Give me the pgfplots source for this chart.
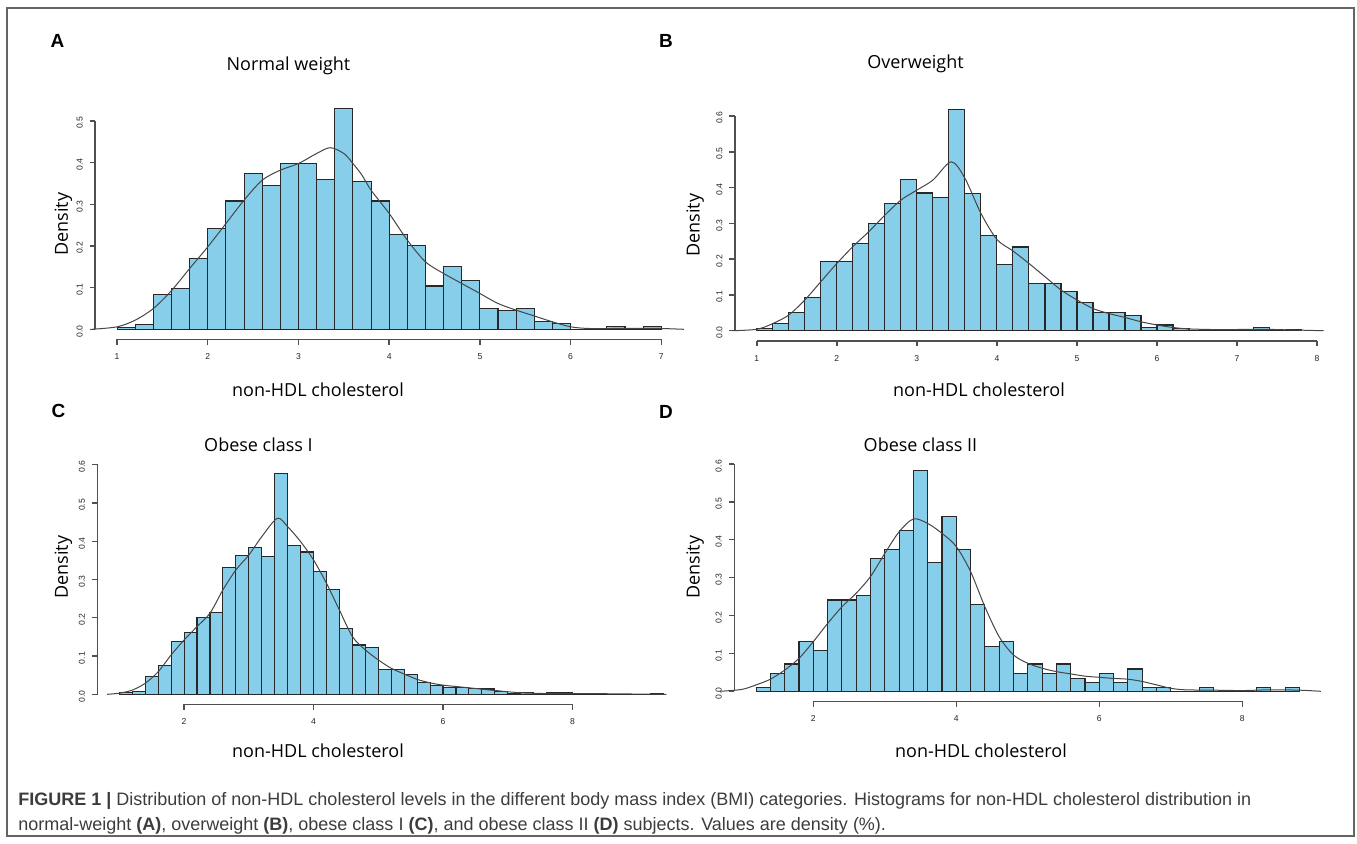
\documentclass[border=0pt]{standalone}
\usepackage{pgfplots}
\pgfplotsset{compat=1.18}
\usepackage{fontspec}
\setmainfont{Liberation Sans}
\newfontfamily\segoe{Open Sans}
\definecolor{barfill}{RGB}{135,206,235}
\definecolor{barline}{RGB}{40,40,40}
\definecolor{kdeline}{RGB}{70,70,70}
\definecolor{axgray}{RGB}{80,80,80}
\definecolor{capgray}{RGB}{60,60,60}
\definecolor{framegray}{RGB}{100,100,100}

\pgfplotsset{
  rbase/.style={
    scale only axis,
    clip=false,
    tick align=outside,
    major tick length=2.8pt,
    ymin=0,
    /pgf/number format/assume math mode=true,
    tick label style={font=\fontsize{4.3}{5}\selectfont, text=black!85},
  },
  % data + x axis (R style: line only from first to last tick, set below the bars)
  rhist/.style={rbase,
    axis x line*=bottom, axis y line=none,
    axis x line shift=5pt,
    x axis line style={draw=axgray, line width=0.8pt},
    xtick style={draw=axgray, line width=0.7pt},
    xticklabel style={yshift=-1pt},
  },
  % y axis only, at the left edge of R's plot region
  ryaxis/.style={rbase,
    axis y line*=left, axis x line=none,
    width=1pt, xmin=0, xmax=1,
    ytick distance=0.1,
    y axis line style={draw=axgray, line width=0.8pt},
    ytick style={draw=axgray, line width=0.7pt},
    yticklabel style={rotate=90, anchor=south, xshift=-1pt,
      /pgf/number format/fixed, /pgf/number format/fixed zerofill,
      /pgf/number format/precision=1},
  },
  hbars/.style={ybar interval, fill=barfill, draw=barline, line width=0.55pt},
  kde/.style={smooth, draw=kdeline, line width=0.5pt, mark=none},
}
\newcommand{\yline}[1]{\draw[axgray, line width=0.8pt] (axis cs:0,0) -- (axis cs:0,#1);}

\begin{document}
\begin{tikzpicture}

% A: normal weight
\begin{axis}[ryaxis, anchor=south west, at={(47.65pt,-164.65pt)}, height=104.15pt, ymax=0.5]
\yline{0.5}
\end{axis}
\begin{axis}[rhist, anchor=south west, at={(58.55pt,-164.65pt)},
  width=272.1pt, height=104.15pt, xmin=1, xmax=7, ymax=0.5, xtick={1,2,...,7}]
\addplot[hbars] coordinates {
(1.0,0.005) (1.2,0.012) (1.4,0.084) (1.6,0.097) (1.8,0.169) (2.0,0.242)
(2.2,0.308) (2.4,0.373) (2.6,0.346) (2.8,0.399) (3.0,0.399) (3.2,0.360)
(3.4,0.531) (3.6,0.354) (3.8,0.308) (4.0,0.228) (4.2,0.202) (4.4,0.104)
(4.6,0.150) (4.8,0.117) (5.0,0.051) (5.2,0.046) (5.4,0.051) (5.6,0.019)
(5.8,0.013) (6.0,0.000) (6.2,0.000) (6.4,0.006) (6.6,0.000) (6.8,0.006)
(7.0,0.000)};
\addplot[kde] coordinates {
(0.72,0) (1.0,0.006) (1.2,0.022) (1.4,0.05) (1.6,0.093) (1.8,0.146)
(2.0,0.198) (2.2,0.254) (2.4,0.31) (2.6,0.358) (2.8,0.382) (3.0,0.398)
(3.2,0.422) (3.35,0.436) (3.5,0.422) (3.6,0.398) (3.7,0.37) (3.8,0.334)
(4.0,0.278) (4.2,0.214) (4.4,0.162) (4.6,0.134) (4.8,0.11) (5.0,0.086)
(5.2,0.062) (5.4,0.046) (5.6,0.032) (5.8,0.018) (6.0,0.006) (6.2,0.002)
(6.5,0.002) (6.8,0.002) (7.0,0.002) (7.25,0)};
\end{axis}

% B: overweight
\begin{axis}[ryaxis, anchor=south west, at={(367.5pt,-165.35pt)}, height=107.35pt, ymax=0.6]
\yline{0.6}
\end{axis}
\begin{axis}[rhist, anchor=south west, at={(378.4pt,-165.35pt)},
  width=280.15pt, height=107.35pt, xmin=1, xmax=8, ymax=0.6, xtick={1,2,...,8}]
\addplot[hbars] coordinates {
(1.0,0.006) (1.2,0.021) (1.4,0.050) (1.6,0.093) (1.8,0.194) (2.0,0.194)
(2.2,0.244) (2.4,0.300) (2.6,0.355) (2.8,0.423) (3.0,0.385) (3.2,0.372)
(3.4,0.619) (3.6,0.384) (3.8,0.267) (4.0,0.185) (4.2,0.234) (4.4,0.133)
(4.6,0.133) (4.8,0.110) (5.0,0.078) (5.2,0.050) (5.4,0.050) (5.6,0.043)
(5.8,0.010) (6.0,0.016) (6.2,0.006) (6.4,0.000) (6.6,0.003) (6.8,0.003)
(7.0,0.000) (7.2,0.009) (7.4,0.000) (7.6,0.003) (7.8,0.000)};
\addplot[kde] coordinates {
(0.69,0) (1.0,0.004) (1.2,0.02) (1.4,0.044) (1.6,0.086) (1.8,0.137)
(2.0,0.188) (2.2,0.235) (2.4,0.277) (2.6,0.323) (2.8,0.365) (3.0,0.393)
(3.2,0.421) (3.43,0.472) (3.6,0.426) (3.8,0.328) (4.0,0.255) (4.2,0.223)
(4.4,0.188) (4.6,0.151) (4.8,0.114) (5.0,0.086) (5.2,0.062) (5.4,0.048)
(5.6,0.037) (5.8,0.025) (6.0,0.016) (6.2,0.009) (6.4,0.005) (6.8,0.003)
(7.3,0.004) (7.7,0.002) (8.08,0)};
\end{axis}

% C: obese class I
\begin{axis}[ryaxis, anchor=south west, at={(48.8pt,-347.15pt)}, height=114.8pt, ymax=0.6]
\yline{0.6}
\end{axis}
\begin{axis}[rhist, anchor=south west, at={(92.05pt,-347.15pt)},
  width=194.2pt, height=114.8pt, xmin=2, xmax=8, ymax=0.6, xtick={2,4,6,8}]
\addplot[hbars] coordinates {
(1.0,0.005) (1.2,0.008) (1.4,0.046) (1.6,0.075) (1.8,0.137) (2.0,0.162)
(2.2,0.201) (2.4,0.213) (2.6,0.331) (2.8,0.362) (3.0,0.384) (3.2,0.361)
(3.4,0.578) (3.6,0.389) (3.8,0.372) (4.0,0.321) (4.2,0.275) (4.4,0.172)
(4.6,0.129) (4.8,0.122) (5.0,0.066) (5.2,0.064) (5.4,0.051) (5.6,0.031)
(5.8,0.024) (6.0,0.018) (6.2,0.017) (6.4,0.015) (6.6,0.014) (6.8,0.008)
(7.0,0.003) (7.2,0.005) (7.4,0.001) (7.6,0.004) (7.8,0.004) (8.0,0.002)
(8.2,0.000) (8.4,0.000) (8.6,0.000) (8.8,0.000) (9.0,0.000) (9.2,0.002)
(9.4,0.000)};
\addplot[kde] coordinates {
(0.81,0) (1.0,0.003) (1.2,0.011) (1.4,0.029) (1.6,0.059) (1.8,0.103)
(2.0,0.142) (2.2,0.177) (2.4,0.212) (2.6,0.273) (2.8,0.325) (3.0,0.364)
(3.2,0.412) (3.44,0.46) (3.6,0.438) (3.8,0.399) (4.0,0.351) (4.2,0.29)
(4.4,0.22) (4.6,0.151) (4.8,0.116) (5.0,0.09) (5.2,0.068) (5.4,0.053)
(5.6,0.039) (5.8,0.03) (6.0,0.024) (6.4,0.017) (6.8,0.01) (7.2,0.004)
(7.6,0.002) (8.2,0.002) (8.8,0.001) (9.45,0)};
\end{axis}

% D: obese class II
\begin{axis}[ryaxis, anchor=south west, at={(367.2pt,-345.65pt)}, height=113.65pt, ymax=0.6]
\yline{0.6}
\end{axis}
\begin{axis}[rhist, anchor=south west, at={(406.65pt,-345.65pt)},
  width=214.5pt, height=113.65pt, xmin=2, xmax=8, ymax=0.6, xtick={2,4,6,8}]
\addplot[hbars] coordinates {
(1.2,0.011) (1.4,0.047) (1.6,0.072) (1.8,0.132) (2.0,0.108) (2.2,0.241)
(2.4,0.241) (2.6,0.253) (2.8,0.351) (3.0,0.375) (3.2,0.424) (3.4,0.583)
(3.6,0.339) (3.8,0.462) (4.0,0.375) (4.2,0.230) (4.4,0.119) (4.6,0.132)
(4.8,0.047) (5.0,0.072) (5.2,0.047) (5.4,0.072) (5.6,0.035) (5.8,0.023)
(6.0,0.047) (6.2,0.023) (6.4,0.059) (6.6,0.011) (6.8,0.011) (7.0,0.000)
(7.2,0.000) (7.4,0.011) (7.6,0.000) (7.8,0.000) (8.0,0.000) (8.2,0.011)
(8.4,0.000) (8.6,0.011) (8.8,0.000)};
\addplot[kde] coordinates {
(0.69,0) (1.0,0.005) (1.2,0.017) (1.4,0.032) (1.6,0.056) (1.8,0.087)
(2.0,0.131) (2.2,0.179) (2.4,0.223) (2.6,0.259) (2.8,0.303) (3.0,0.364)
(3.2,0.421) (3.4,0.455) (3.6,0.443) (3.8,0.417) (4.0,0.382) (4.2,0.316)
(4.4,0.223) (4.6,0.144) (4.8,0.096) (5.0,0.074) (5.2,0.061) (5.4,0.052)
(5.6,0.046) (5.8,0.04) (6.0,0.037) (6.2,0.034) (6.4,0.032) (6.6,0.026)
(6.8,0.017) (7.0,0.008) (7.2,0.004) (7.6,0.003) (8.0,0.002) (8.4,0.004)
(8.8,0.003) (9.1,0)};
\end{axis}

% frame, panel letters, titles, axis labels, caption (units: reference pixels)
\begin{scope}[x=0.5pt, y=-0.5pt]
\path (0,0) rectangle (1357,843);
\draw[framegray, line width=0.8pt] (7,8) rectangle (1354,836);
\tikzset{letter/.style={anchor=base, font=\bfseries\fontsize{9.5}{11}\selectfont},
  ttl/.style={anchor=base, font=\segoe\fontsize{9}{11}\selectfont},
  dens/.style={anchor=base, rotate=90, font=\segoe\fontsize{9}{11}\selectfont}}
\node[letter] at (57.5,47) {A};
\node[letter] at (666,47) {B};
\node[letter] at (58.5,417.5) {C};
\node[letter] at (666,418.5) {D};
\node[ttl] at (288.5,70.7) {Normal weight};
\node[ttl] at (915.5,68.3) {Overweight};
\node[ttl] at (258.5,451.7) {Obese class I};
\node[ttl] at (920.5,451.7) {Obese class II};
\node[ttl] at (318,396.7) {non-HDL cholesterol};
\node[ttl] at (979,396.7) {non-HDL cholesterol};
\node[ttl] at (318,757) {non-HDL cholesterol};
\node[ttl] at (981,757) {non-HDL cholesterol};
\node[dens] at (68,224) {Density};
\node[dens] at (699.5,225) {Density};
\node[dens] at (68,567) {Density};
\node[dens] at (699.5,567) {Density};
\node[anchor=base west, inner sep=0pt, text=capgray, font=\fontsize{9}{10}\selectfont] at (18,805)
  {\textbf{FIGURE 1 |} Distribution of non-HDL cholesterol levels in the different body mass index (BMI) categories. Histograms for non-HDL cholesterol distribution in};
\node[anchor=base west, inner sep=0pt, text=capgray, font=\fontsize{9}{10}\selectfont] at (18,830)
  {normal-weight \textbf{(A)}, overweight \textbf{(B)}, obese class I \textbf{(C)}, and obese class II \textbf{(D)} subjects. Values are density (\%).};
\end{scope}
\end{tikzpicture}
\end{document}
